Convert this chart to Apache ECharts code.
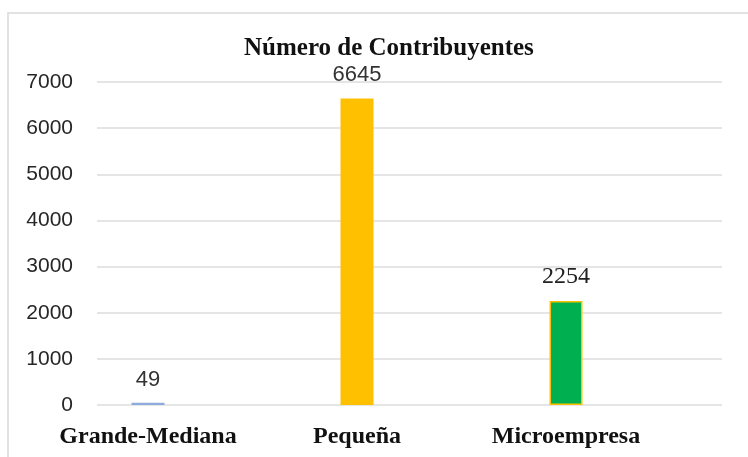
<!DOCTYPE html>
<html>
<head>
<meta charset="utf-8">
<script src="https://cdn.jsdelivr.net/npm/echarts@6/dist/echarts.min.js"></script>
<style>
  html, body { margin: 0; padding: 0; background: #fff; }
  #chart { width: 748px; height: 457px; }
</style>
</head>
<body>
<div id="chart"></div>
<script>
// 数据
var categories = ['Grande-Mediana', 'Pequeña', 'Microempresa'];
var values = [49, 6645, 2254];
var yTicks = [0, 1000, 2000, 3000, 4000, 5000, 6000, 7000];

// 样式
var barColors = ['#8FAADC', '#FFC000', '#00B050'];
var labelStyles = ['sans', 'sans', 'serif'];

var chart = echarts.init(document.getElementById('chart'));

var option = {
  animation: false,
  backgroundColor: '#fff',
  title: {
    text: 'Número de Contribuyentes',
    left: 239,
    top: 31,
    textStyle: {
      fontFamily: 'Liberation Serif',
      fontWeight: 'bold',
      fontSize: 25,
      color: '#111'
    }
  },
  // 外框
  graphic: [{
    type: 'rect',
    shape: { x: 8, y: 13, width: 800, height: 500 },
    style: { fill: 'none', stroke: '#d9d9d9', lineWidth: 1.5 },
    silent: true
  }],
  grid: [
    // 网格线用
    { left: 97, right: 26, top: 82, bottom: 52 },
    // 柱子用
    { left: 43.5, width: 627, top: 82, bottom: 52 }
  ],
  xAxis: [
    { type: 'category', gridIndex: 0, data: categories, show: false },
    {
      type: 'category',
      gridIndex: 1,
      data: categories,
      axisLine: { show: false },
      axisTick: { show: false },
      axisLabel: {
        interval: 0,
        margin: 20,
        fontFamily: 'Liberation Serif',
        fontWeight: 'bold',
        fontSize: 24,
        color: '#111'
      }
    }
  ],
  yAxis: [
    {
      type: 'value',
      gridIndex: 0,
      min: yTicks[0],
      max: yTicks[yTicks.length - 1],
      interval: yTicks[1] - yTicks[0],
      axisLine: { show: false },
      axisTick: { show: false },
      axisLabel: {
        margin: 24,
        fontFamily: 'Liberation Sans',
        fontSize: 21,
        color: '#262626',
        formatter: function (v) { return String(v); }
      },
      splitLine: { lineStyle: { color: '#dcdcdc', width: 1.5 } }
    },
    {
      type: 'value',
      gridIndex: 1,
      min: yTicks[0],
      max: yTicks[yTicks.length - 1],
      interval: yTicks[1] - yTicks[0],
      show: false,
      splitLine: { show: false }
    }
  ],
  series: [{
    type: 'bar',
    xAxisIndex: 1,
    yAxisIndex: 1,
    barWidth: 33,
    data: values.map(function (v, i) {
      return {
        value: v,
        itemStyle: {
          color: barColors[i],
          borderColor: i === 2 ? '#FFC000' : barColors[i],
          borderWidth: i === 2 ? 1.5 : 0
        }
      };
    }),
    label: {
      show: true,
      position: 'top',
      distance: 12,
      formatter: function (p) {
        return '{' + labelStyles[p.dataIndex] + '|' + p.value + '}';
      },
      rich: {
        sans: { fontFamily: 'Liberation Sans', fontSize: 22, color: '#333' },
        serif: { fontFamily: 'Liberation Serif', fontSize: 24, color: '#222' }
      }
    }
  }]
};

chart.setOption(option);
</script>
</body>
</html>
